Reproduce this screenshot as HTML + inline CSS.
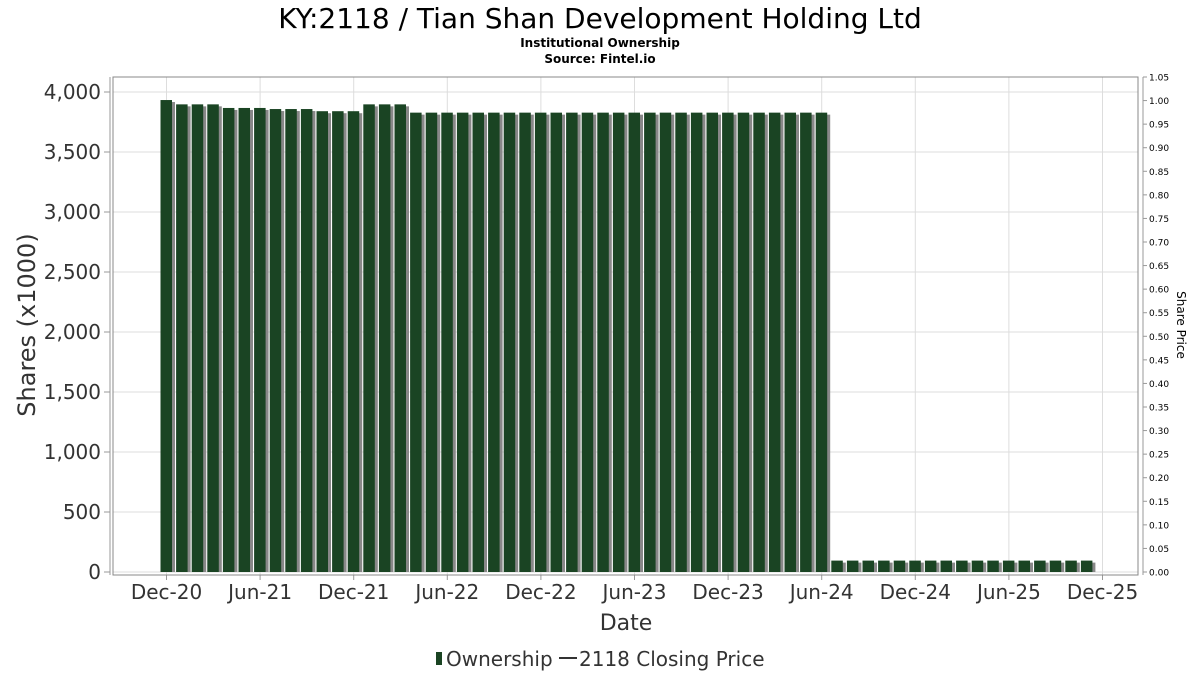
<!DOCTYPE html>
<html><head><meta charset="utf-8">
<style>
body{margin:0;background:#fff;}
svg{display:block;font-family:"DejaVu Sans","Liberation Sans",sans-serif;}
</style></head>
<body>
<svg id="chart" width="1200" height="675" viewBox="0 0 1200 675">
<text x="600" y="28" text-anchor="middle" font-size="28" fill="#000">KY:2118 / Tian Shan Development Holding Ltd</text>
<text x="600" y="47" text-anchor="middle" font-size="12" font-weight="bold" fill="#000">Institutional Ownership</text>
<text x="600" y="63" text-anchor="middle" font-size="12" font-weight="bold" fill="#000">Source: Fintel.io</text>
<g id="grid"></g>
<g id="bars"></g>
<g id="axes"></g>
<text transform="translate(35,325) rotate(-90)" text-anchor="middle" font-size="24" fill="#333">Shares (x1000)</text>
<text transform="translate(1177,325) rotate(90)" text-anchor="middle" font-size="12" fill="#000">Share Price</text>
<text x="626" y="630" text-anchor="middle" font-size="22" fill="#333">Date</text>
<g>
<rect x="436" y="652" width="6" height="13" fill="#1a4423"></rect>
<text x="446" y="666" font-size="20" fill="#333">Ownership</text>
<rect x="559" y="657" width="18" height="2" fill="#333"></rect>
<text x="579" y="666" font-size="20" fill="#333">2118 Closing Price</text>
</g>
</svg>
<script>
const ownershipValues = [3933,3897,3897,3897,3867,3867,3867,3858,3858,3858,3840,3840,3840,3897,3897,3897,
3828,3828,3828,3828,3828,3828,3828,3828,3828,3828,3828,3828,3828,3828,3828,3828,3828,3828,3828,3828,3828,3828,3828,3828,3828,3828,3828,
95,95,95,95,95,95,95,95,95,95,95,95,95,95,95,95,95];
const leftTicks = [0,500,1000,1500,2000,2500,3000,3500,4000];
const rightTicks = [0,0.05,0.10,0.15,0.20,0.25,0.30,0.35,0.40,0.45,0.50,0.55,0.60,0.65,0.70,0.75,0.80,0.85,0.90,0.95,1.00,1.05];
const xTickLabels = ["Dec-20","Jun-21","Dec-21","Jun-22","Dec-22","Jun-23","Dec-23","Jun-24","Dec-24","Jun-25","Dec-25"];
const xTickMonths = [0,6,12,18,24,30,36,42,48,54,60];

const NS="http://www.w3.org/2000/svg";
const PL=113,PR=1138,PT=77,PB=575;
const yL=v=>572-v*0.12;
const yR=v=>572-v*(495/1.05);
const xM=m=>166.5+m*15.6;
function mk(tag,attrs,parent){const e=document.createElementNS(NS,tag);for(const k in attrs)e.setAttribute(k,attrs[k]);parent.appendChild(e);return e;}
const grid=document.getElementById('grid'),bars=document.getElementById('bars'),axes=document.getElementById('axes');
mk('rect',{x:PL,y:PT,width:PR-PL,height:PB-PT,fill:'#fff',stroke:'none'},grid);
leftTicks.forEach(v=>{
 const l=mk('line',{x1:PL,x2:PR,y1:yL(v),y2:yL(v),stroke:'#ddd'},grid);
 
 
 mk('line',{x1:104,x2:110,y1:yL(v),y2:yL(v),stroke:'#999'},axes);
 const t=mk('text',{x:101,y:yL(v)+7,'text-anchor':'end','font-size':20,fill:'#333'},axes);
 t.textContent=v.toLocaleString('en-US');
 
 
});
xTickMonths.forEach((m,i)=>{
 const l=mk('line',{x1:xM(m),x2:xM(m),y1:PT,y2:PB,stroke:'#ddd'},grid);
 
 
 mk('line',{x1:xM(m),x2:xM(m),y1:PB,y2:PB+5,stroke:'#999'},axes);
 const t=mk('text',{x:xM(m),y:599,'text-anchor':'middle','font-size':20,fill:'#333'},axes);
 t.textContent=xTickLabels[i];
 
 
});
rightTicks.forEach(v=>{
 mk('line',{x1:1143,x2:1147,y1:yR(v),y2:yR(v),stroke:'#999'},axes);
 const t=mk('text',{x:1149,y:yR(v)+3.5,'font-size':9,fill:'#000'},axes);
 t.textContent=v.toFixed(2);
 
 
});
ownershipValues.forEach((v,i)=>{
 const x=xM(i)-6,y=yL(v),h=yL(0)-y;
 mk('rect',{x:x+3,y:y+2,width:11.5,height:h-2,fill:'#888'},bars);
 const r=mk('rect',{x:x,y:y,width:11.5,height:h,fill:'#1a4423'},bars);
 
 
});
mk('rect',{x:PL,y:PT,width:PR-PL,height:PB-PT,fill:'none',stroke:'#888'},axes);
mk('line',{x1:110,x2:110,y1:PT,y2:PB,stroke:'#999'},axes);
mk('line',{x1:1143,x2:1143,y1:PT,y2:PB,stroke:'#999'},axes);
</script>
</body></html>
